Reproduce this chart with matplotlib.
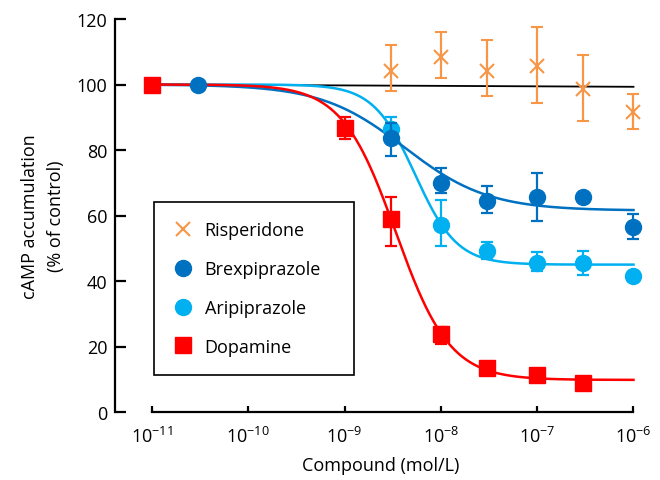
import numpy as np
import matplotlib.pyplot as plt
from matplotlib.lines import Line2D

plt.rcParams['font.family'] = ['Open Sans', 'DejaVu Sans']

# concentraciones (mol/L)
x_dop = [1e-11, 1e-9, 3e-9, 1e-8, 3e-8, 1e-7, 3e-7]
y_dop = [100, 86.8, 58.8, 23.9, 13.4, 11.2, 8.8]
lo_dop = [0, 3.5, 8, 3.2, 0, 0, 0]
hi_dop = [0, 3.2, 7, 2.2, 0, 0, 0]

x_brex = [3e-11, 3e-9, 1e-8, 3e-8, 1e-7, 3e-7, 1e-6]
y_brex = [99.8, 83.6, 70.0, 64.4, 65.7, 65.5, 56.4]
lo_brex = [0, 5.5, 3.2, 3.5, 7.5, 1, 3.5]
hi_brex = [0, 4.5, 4.5, 4.5, 7.2, 1, 4]

x_arip = [3e-9, 1e-8, 3e-8, 1e-7, 3e-7, 1e-6]
y_arip = [86.5, 57.2, 49.2, 45.5, 45.4, 41.4]
lo_arip = [2.5, 6.5, 2.5, 2.5, 3.5, 1.5]
hi_arip = [3.5, 7.5, 2.8, 3.5, 3.8, 1.5]

x_risp = [3e-9, 1e-8, 3e-8, 1e-7, 3e-7, 1e-6]
y_risp = [104.0, 108.5, 104.0, 105.5, 98.5, 91.5]
lo_risp = [6, 6.5, 7.5, 11, 9.5, 5]
hi_risp = [8, 7.5, 9.5, 12, 10.5, 5.5]

# parametros de los ajustes (top, bottom, IC50, hill)
fit_dop = (100, 9.8, 3.4e-9, 1.55)
fit_brex = (100, 61.5, 4.2e-9, 1.0)
fit_arip = (100, 45.0, 5.4e-9, 2.0)
risp_line = (100, 99.3)

col_dop = '#FF0000'
col_brex = '#0070C0'
col_arip = '#00B0F0'
col_risp = '#F79646'


def logistic(x, p):
    top, bot, ic50, h = p
    return bot + (top - bot) / (1 + (x / ic50) ** h)


xx = np.logspace(-11, -6, 400)

fig = plt.figure(figsize=(6.6, 4.81), dpi=100)
ax = fig.add_axes([115.5 / 660, 1 - 413 / 481, 530 / 660, 393 / 481])

ax.plot([1e-11, 1e-6], risp_line, color='black', lw=1.3, zorder=1)
ax.plot(xx, logistic(xx, fit_arip), color=col_arip, lw=1.8, zorder=2)
ax.plot(xx, logistic(xx, fit_brex), color=col_brex, lw=1.8, zorder=2)
ax.plot(xx, logistic(xx, fit_dop), color=col_dop, lw=1.8, zorder=2)

eb = dict(elinewidth=1.6, capsize=4, capthick=1.6)
ax.errorbar(x_risp, y_risp, yerr=[lo_risp, hi_risp], fmt='x', color=col_risp,
            ms=9.5, mew=1.5, zorder=3, **eb)
ax.errorbar(x_arip, y_arip, yerr=[lo_arip, hi_arip], fmt='o', color=col_arip,
            ms=11.5, zorder=4, **eb)
ax.errorbar(x_brex, y_brex, yerr=[lo_brex, hi_brex], fmt='o', color=col_brex,
            ms=11.5, zorder=5, **eb)
ax.errorbar(x_dop, y_dop, yerr=[lo_dop, hi_dop], fmt='s', color=col_dop,
            ms=11.5, zorder=6, **eb)

ax.set_xscale('log')
ax.set_xlim(10 ** (-11 - 36.5 / 96.2), 10 ** (-6 + 12 / 96.2))
ax.set_ylim(0, 120)
ax.set_xticks([1e-11, 1e-10, 1e-9, 1e-8, 1e-7, 1e-6])
ax.xaxis.set_minor_locator(plt.NullLocator())
ax.set_yticks(range(0, 121, 20))

for s in ['top', 'right']:
    ax.spines[s].set_visible(False)
ax.spines['left'].set_bounds(0, 120)
ax.spines['bottom'].set_bounds(1e-11, 1e-6)
ax.spines['left'].set_linewidth(1.6)
ax.spines['bottom'].set_linewidth(1.6)
ax.tick_params(axis='y', direction='in', length=8, width=1.6, labelsize=13, pad=6)
ax.tick_params(axis='x', direction='in', length=4.5, width=1.6, labelsize=13, pad=10)

ax.set_xlabel('Compound (mol/L)', fontsize=13, labelpad=7)
ax.set_ylabel('cAMP accumulation\n(% of control)', fontsize=13, labelpad=8,
              linespacing=1.6)

handles = [
    Line2D([], [], ls='none', marker='x', ms=9.5, mew=1.5, color=col_risp),
    Line2D([], [], ls='none', marker='o', ms=11.5, color=col_brex),
    Line2D([], [], ls='none', marker='o', ms=11.5, color=col_arip),
    Line2D([], [], ls='none', marker='s', ms=11.5, color=col_dop),
]
labels = ['Risperidone', 'Brexpiprazole', 'Aripiprazole', 'Dopamine']
leg = ax.legend(handles, labels, loc='upper left',
                bbox_to_anchor=(38.5 / 530, 0, 200 / 530, 210 / 393),
                mode='expand', borderaxespad=0, fontsize=13, labelspacing=1.16,
                handletextpad=0.66, borderpad=1.05, handlelength=1.1,
                fancybox=False, edgecolor='black', framealpha=1)
leg.get_frame().set_linewidth(1.2)

fig.savefig('out.png', dpi=100)
